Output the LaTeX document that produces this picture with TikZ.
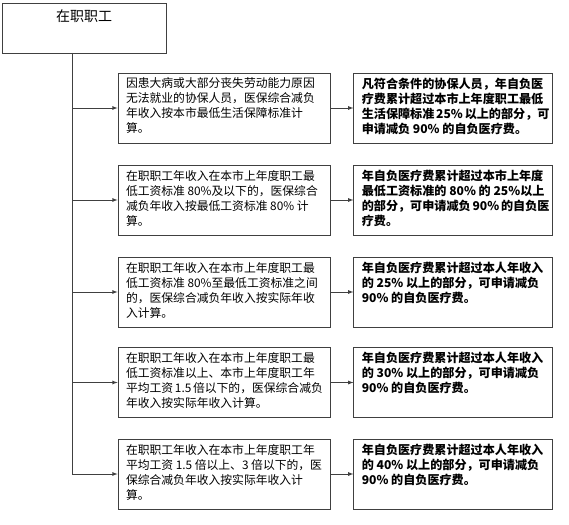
\documentclass[tikz,border=0pt]{standalone}
\usepackage{fontspec}
\newfontfamily\cjk{Noto Sans CJK SC}
\usetikzlibrary{positioning}
\newcommand\boxtxt[2]{\parbox[c][60pt][t]{#1}{\raggedright #2}}
\tikzset{
  staffbox/.style={draw=black!75,line width=0.8pt,inner xsep=6pt,inner ysep=5pt,font=\cjk\fontsize{14}{17}\selectfont},
  condbox/.style={draw=black!75,line width=0.8pt,inner xsep=8pt,inner ysep=5pt,font=\cjk\fontsize{11.8}{15}\selectfont},
  rulebox/.style={condbox,font=\cjk\bfseries\fontsize{12.1}{15}\selectfont},
}
\begin{document}
\begin{tikzpicture}[x=1pt,y=-1pt]
                \useasboundingbox (0,0) rectangle (569,524);
                %% top box
                \node[staffbox] (staff) at (84,28) {\parbox[c][40pt][t]{152pt}{\centering\vspace{2pt}在职职工}};
                \coordinate (trunk) at (72,53);
                %% conditions
                \node[condbox] (cond1) at (224,108) {\boxtxt{196pt}{因患大病或大部分丧失劳动能力原因\\无法就业的协保人员，医保综合减负\\年收入按本市最低生活保障标准计\\算。}};
                \node[condbox] (cond2) at (224,200) {\boxtxt{196pt}{在职职工年收入在本市上年度职工最\\低工资标准~80\%及以下的，医保综合\\减负年收入按最低工资标准~80\%~计\\算。}};
                \node[condbox] (cond3) at (224,292) {\boxtxt{196pt}{在职职工年收入在本市上年度职工最\\低工资标准~80\%至最低工资标准之间\\的，医保综合减负年收入按实际年收\\入计算。}};
                \node[condbox] (cond4) at (224,382.5) {\boxtxt{196pt}{在职职工年收入在本市上年度职工最\\低工资标准以上、本市上年度职工年\\平均工资~1.5~倍以下的，医保综合减负\\年收入按实际年收入计算。}};
                \node[condbox] (cond5) at (224,474) {\boxtxt{196pt}{在职职工年收入在本市上年度职工年\\平均工资~1.5~倍以上、3~倍以下的，医\\保综合减负年收入按实际年收入计\\算。}};
                %% rules
                \node[rulebox,right=23pt of cond1] (rule1) {\boxtxt{183pt}{凡符合条件的协保人员，年自负医\\疗费累计超过本市上年度职工最低\\生活保障标准~25\%~以上的部分，可\\申请减负~90\%~的自负医疗费。}};
                \node[rulebox,right=23pt of cond2] (rule2) {\boxtxt{183pt}{年自负医疗费累计超过本市上年度\\最低工资标准的~80\%~的~25\%以上\\的部分，可申请减负~90\%~的自负医\\疗费。}};
                \node[rulebox,right=23pt of cond3] (rule3) {\boxtxt{183pt}{年自负医疗费累计超过本人年收入\\的~25\%~以上的部分，可申请减负\\90\%~的自负医疗费。}};
                \node[rulebox,right=23pt of cond4] (rule4) {\boxtxt{183pt}{年自负医疗费累计超过本人年收入\\的~30\%~以上的部分，可申请减负\\90\%~的自负医疗费。}};
                \node[rulebox,right=23pt of cond5] (rule5) {\boxtxt{183pt}{年自负医疗费累计超过本人年收入\\的~40\%~以上的部分，可申请减负\\90\%~的自负医疗费。}};
                %% connectors
                \draw[black!75,line width=0.8pt] (trunk) -- (cond5.west -| trunk);
                \foreach \i in {1,...,5} {
                  \draw[black!75,line width=0.8pt,-latex] (cond\i.west -| trunk) -- (cond\i.west);
                  \draw[black!75,line width=0.8pt,-latex] (cond\i) -- (rule\i);
                }
            \end{tikzpicture}
\end{document}
